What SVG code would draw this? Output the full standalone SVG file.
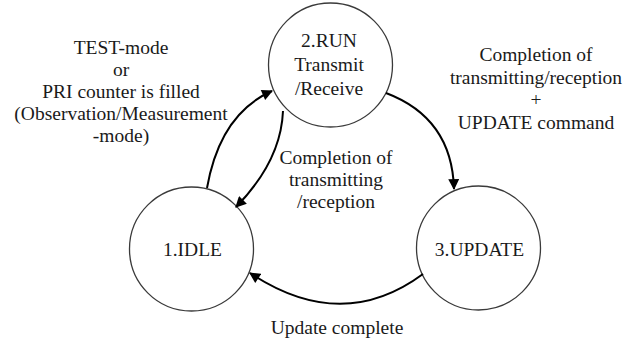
<svg xmlns="http://www.w3.org/2000/svg" width="636" height="341" viewBox="0 0 636 341">
<style>
  text { font-family: "Liberation Serif", "Times New Roman", serif; font-size: 19.5px; fill: #1a1a1a; text-anchor: middle; }
  .node { fill: #ffffff; stroke: #3a3a3a; stroke-width: 1.3; }
  .edge { fill: none; stroke: #000000; stroke-width: 2; marker-end: url(#arrow); }
</style>
<defs>
  <marker id="arrow" viewBox="0 0 10 10" refX="9" refY="5" markerWidth="6" markerHeight="5.5" markerUnits="strokeWidth" orient="auto">
    <path d="M0,0 L10,5 L0,10 z" fill="#000000"/>
  </marker>
</defs>
<rect width="636" height="341" fill="#ffffff"/>

<g id="node-run">
  <circle class="node" cx="330.5" cy="65" r="62"/>
  <text x="329" y="47">2.RUN</text>
  <text x="329" y="71">Transmit</text>
  <text x="329" y="95">/Receive</text>
</g>
<g id="node-idle">
  <circle class="node" cx="191.5" cy="249" r="62"/>
  <text x="192.5" y="256">1.IDLE</text>
</g>
<g id="node-update">
  <circle class="node" cx="478.5" cy="248" r="62"/>
  <text x="479.5" y="256">3.UPDATE</text>
</g>

<g id="connectors">
  <path class="edge" d="M207,188 Q220,114 272,91"/>
  <path class="edge" d="M283,111 Q281,161 236,207"/>
  <path class="edge" d="M386,93 Q452,118 454,189"/>
  <path class="edge" d="M423,274 Q342,334 250,273"/>
</g>

<g id="labels">
  <text x="121" y="54">TEST-mode</text>
  <text x="121" y="76">or</text>
  <text x="121" y="98">PRI counter is filled</text>
  <text x="121" y="120">(Observation/Measurement</text>
  <text x="121" y="142">-mode)</text>

  <text x="536" y="61">Completion of</text>
  <text x="536" y="83.5">transmitting/reception</text>
  <text x="536" y="106">+</text>
  <text x="536" y="128.5">UPDATE command</text>

  <text x="336" y="164">Completion of</text>
  <text x="336" y="186">transmitting</text>
  <text x="336" y="208">/reception</text>

  <text x="337" y="334">Update complete</text>
</g>
</svg>
